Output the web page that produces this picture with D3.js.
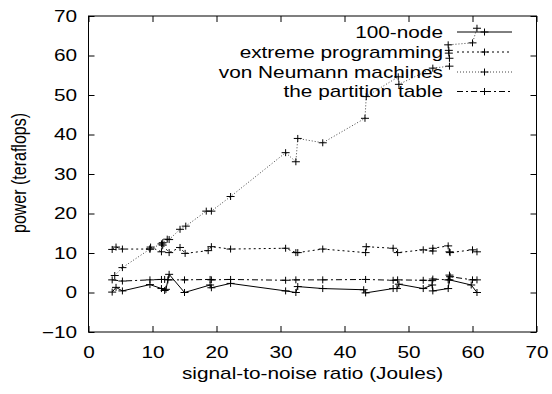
<!DOCTYPE html>
<html>
<head>
<meta charset="utf-8">
<script src="https://cdn.jsdelivr.net/npm/d3@7"></script>
<style>
  body { margin: 0; background: #fff; }
  text { font-family: "Liberation Sans", Arial, sans-serif; font-size: 16px; fill: #000; }
</style>
</head>
<body>
<div id="chart"></div>
<script>
const W = 552, H = 394;
const plot = {left: 88.5, right: 536.5, top: 16, bottom: 332};
const sx = 1.3; // the reference text is stretched sideways

const xTicks = [0, 10, 20, 30, 40, 50, 60, 70];
const yTicks = [-10, 0, 10, 20, 30, 40, 50, 60, 70];
const seriesNames = ["100-node", "extreme programming", "von Neumann machines", "the partition table"];

const node100 = [[3.7,0.1],[4.3,1.3],[5.3,0.4],[9.6,2.0],[11.4,1.0],[11.9,0.5],[12.1,0.8],[12.6,4.6],
  [15.0,0.0],[19.0,1.9],[19.2,1.2],[22.2,2.3],[30.8,0.4],[32.4,0.0],[32.7,1.5],[36.6,1.0],[43.0,0.7],
  [43.3,-0.1],[47.6,1.0],[48.2,1.0],[48.5,2.1],[52.3,1.0],[53.7,1.9],[53.8,0.4],[56.2,1.0],[56.4,3.2],
  [59.8,1.9],[60.7,0.0]];
const extremeProg = [[3.7,10.9],[4.3,11.5],[5.3,11.0],[9.6,11.0],[9.7,11.5],[11.4,10.3],[11.6,12.0],[12.6,10.1],
  [14.3,11.4],[15.1,9.9],[18.7,10.6],[19.2,11.6],[22.2,11.0],[30.8,11.2],[32.4,10.1],[32.7,10.1],[36.6,11.0],
  [43.3,10.1],[43.4,11.6],[47.6,11.2],[48.3,10.1],[52.3,10.8],[53.8,10.5],[53.8,11.2],[56.2,11.8],[56.4,10.3],
  [56.5,10.1],[60.0,10.8],[60.7,10.3]];
const vonNeumann = [[4.1,4.3],[5.3,6.3],[9.6,11.0],[11.4,12.3],[11.6,12.6],[12.3,13.5],[12.6,13.4],[14.3,16.0],
  [15.2,16.8],[18.4,20.6],[19.2,20.6],[22.2,24.3],[30.8,35.4],[32.4,33.1],[32.7,39.0],[36.6,37.9],[43.2,44.1],
  [43.4,49.6],[48.4,54.6],[48.5,52.7],[53.8,56.8],[56.4,57.3],[56.4,59.3],[56.3,60.6],[56.3,61.3],[56.2,62.7],
  [60.0,63.2],[60.7,66.9]];
const partition = [[3.7,3.2],[5.3,2.9],[9.6,3.2],[11.4,3.3],[11.9,3.3],[12.4,3.2],[15.0,3.2],[19.0,3.3],
  [19.2,3.2],[22.2,3.3],[30.8,3.1],[32.4,3.2],[36.6,3.2],[43.3,3.3],[47.6,3.1],[48.3,3.2],[52.3,3.1],
  [53.7,3.0],[53.8,3.4],[56.2,3.2],[56.4,4.4],[56.5,4.0],[60.0,3.2],[60.7,3.2]];

const allSeries = [node100, extremeProg, vonNeumann, partition];
const dashes = ["none", "2,3", "1,2", "6,3,2,3"];
const strokes = ["#000", "#000", "#444", "#000"];

const svg = d3.select("#chart").append("svg")
  .attr("width", W)
  .attr("height", H);

const x = d3.scaleLinear().domain([0, 70]).range([plot.left, plot.right]);
const y = d3.scaleLinear().domain([-10, 70]).range([plot.bottom, plot.top]);

// ticks on all four sides, pointing inward
svg.append("g")
  .attr("transform", "translate(0," + plot.bottom + ")")
  .call(d3.axisBottom(x).tickValues(xTicks).tickSizeInner(-6).tickSizeOuter(0).tickPadding(14.6))
  .selectAll("text")
    .attr("transform", "scale(" + sx + ",1)");

svg.append("g")
  .attr("transform", "translate(" + plot.left + ",0)")
  .call(d3.axisLeft(y).tickValues(yTicks).tickSizeInner(-6).tickSizeOuter(0).tickPadding(8.8))
  .selectAll("text")
    .attr("transform", "scale(" + sx + ",1)");

svg.append("g")
  .attr("transform", "translate(0," + plot.top + ")")
  .call(d3.axisTop(x).tickValues(xTicks).tickSizeInner(-6).tickSizeOuter(0).tickFormat(""));

svg.append("g")
  .attr("transform", "translate(" + plot.right + ",0)")
  .call(d3.axisRight(y).tickValues(yTicks).tickSizeInner(-6).tickSizeOuter(0).tickFormat(""));

svg.selectAll(".tick text")
  .style("font-family", "'Liberation Sans', Arial, sans-serif")
  .style("font-size", "16px")
  .attr("fill", "#000");
svg.selectAll(".domain").remove();
svg.selectAll(".tick line").attr("stroke", "#000");

svg.append("rect")
  .attr("x", plot.left)
  .attr("y", plot.top)
  .attr("width", plot.right - plot.left)
  .attr("height", plot.bottom - plot.top)
  .attr("fill", "none")
  .attr("stroke", "#000")
  .attr("stroke-width", 1);

// axis titles
svg.append("text")
  .attr("transform", "translate(" + ((plot.left + plot.right) / 2) + ",379) scale(" + sx + ",1)")
  .attr("text-anchor", "middle")
  .text("signal-to-noise ratio (Joules)");

svg.append("text")
  .attr("transform", "translate(26," + ((plot.top + plot.bottom) / 2 - 1) + ") scale(" + sx + ",1) rotate(-90)")
  .attr("text-anchor", "middle")
  .text("power (teraflops)");

const line = d3.line()
  .x(function(d) { return x(d[0]); })
  .y(function(d) { return y(d[1]); });

const plus = "M-4,0H4M0,-3.5V3.5";

allSeries.forEach(function(data, i) {
  svg.append("path")
    .datum(data)
    .attr("fill", "none")
    .attr("stroke", strokes[i])
    .attr("stroke-width", 1)
    .attr("stroke-dasharray", dashes[i])
    .attr("d", line);

  svg.append("g").selectAll("path")
    .data(data)
    .join("path")
    .attr("transform", function(d) { return "translate(" + x(d[0]) + "," + y(d[1]) + ")"; })
    .attr("d", plus)
    .attr("stroke", "#000")
    .attr("stroke-width", 1);
});

// legend, top right
const legendRows = [32, 52, 72, 91.5];
seriesNames.forEach(function(name, i) {
  const ly = legendRows[i];
  svg.append("text")
    .attr("transform", "translate(443," + (ly + 5.6) + ") scale(" + sx + ",1)")
    .attr("text-anchor", "end")
    .text(name);
  svg.append("line")
    .attr("x1", 457).attr("x2", 512)
    .attr("y1", ly).attr("y2", ly)
    .attr("stroke", strokes[i])
    .attr("stroke-dasharray", dashes[i]);
  svg.append("path")
    .attr("transform", "translate(484.5," + ly + ")")
    .attr("d", plus)
    .attr("stroke", "#000");
});
</script>
</body>
</html>
